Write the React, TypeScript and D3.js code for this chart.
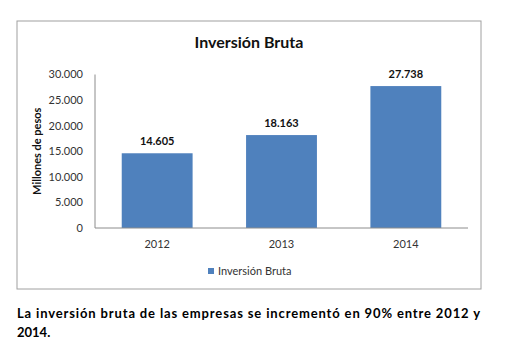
import React from "react";
import * as d3 from "d3";

const years = ["2012", "2013", "2014"];
const inversion = [14605, 18163, 27738];
const yTicks = [0, 5000, 10000, 15000, 20000, 25000, 30000];
const seriesName = "Inversión Bruta";
const chartTitle = "Inversión Bruta";
const yTitle = "Millones de pesos";
const noteLine1 = "La inversión bruta de las empresas se incrementó en 90% entre 2012 y";
const noteLine2 = "2014.";

const FONT = "Lato, 'Open Sans', sans-serif";
const BAR = "#4F81BD";

const fmt = (v: number) =>
  d3.format(",")(v).replace(/,/g, ".");

export default function App() {
  const W = 510;
  const H = 360;
  const plot = { left: 95, right: 468, top: 74.5, bottom: 228 };

  const x = d3
    .scaleBand<string>()
    .domain(years)
    .range([plot.left, plot.right])
    .paddingInner(0.43)
    .paddingOuter(0.215);
  const y = d3.scaleLinear().domain([0, 30000]).range([plot.bottom, plot.top]);

  return (
    <svg
      width={W}
      height={H}
      style={{ position: "absolute", left: 0, top: 0 }}
      fontFamily={FONT}
    >
      <rect x={0} y={0} width={W} height={H} fill="#fff" />
      {/* chart frame */}
      <rect x={17} y={21} width={464} height={268} fill="#fff" stroke="#a0a0a0" strokeWidth={1} />
      <text x={249} y={48} textAnchor="middle" fontSize={16} fontWeight="bold" fill="#111">
        {chartTitle}
      </text>

      {/* y axis */}
      <line x1={plot.left} x2={plot.left} y1={plot.top} y2={plot.bottom} stroke="#8c8c8c" />
      {yTicks.map((t) => (
        <text
          key={t}
          x={83}
          y={y(t)}
          dy="0.35em"
          textAnchor="end"
          fontSize={11}
          fill="#333"
        >
          {fmt(t)}
        </text>
      ))}
      <text
        transform={`translate(41,${(plot.top + plot.bottom) / 2}) rotate(-90)`}
        textAnchor="middle"
        fontSize={11}
        fontWeight="bold"
        fill="#111"
      >
        {yTitle}
      </text>

      {/* bars and value labels */}
      {years.map((yr, i) => (
        <g key={yr}>
          <rect
            x={x(yr)}
            y={y(inversion[i])}
            width={x.bandwidth()}
            height={plot.bottom - y(inversion[i])}
            fill={BAR}
          />
          <text
            x={(x(yr) ?? 0) + x.bandwidth() / 2}
            y={y(inversion[i]) - 8}
            textAnchor="middle"
            fontSize={11}
            fontWeight="bold"
            fill="#111"
          >
            {fmt(inversion[i])}
          </text>
          <text
            x={(x(yr) ?? 0) + x.bandwidth() / 2}
            y={248}
            textAnchor="middle"
            fontSize={11}
            fill="#333"
          >
            {yr}
          </text>
        </g>
      ))}

      {/* x axis */}
      <line x1={plot.left} x2={plot.right} y1={plot.bottom} y2={plot.bottom} stroke="#8c8c8c" />

      {/* legend */}
      <rect x={208} y={268} width={6} height={6} fill={BAR} />
      <text x={218} y={271} dy="0.35em" fontSize={11} fill="#333">
        {seriesName}
      </text>

      {/* note below the chart */}
      <text
        x={17}
        y={318}
        fontSize={13}
        fontWeight="bold"
        fill="#000"
        textLength={463}
        lengthAdjust="spacing"
      >
        {noteLine1}
      </text>
      <text x={17} y={337} fontSize={13} fontWeight="bold" fill="#000">
        {noteLine2}
      </text>
    </svg>
  );
}
